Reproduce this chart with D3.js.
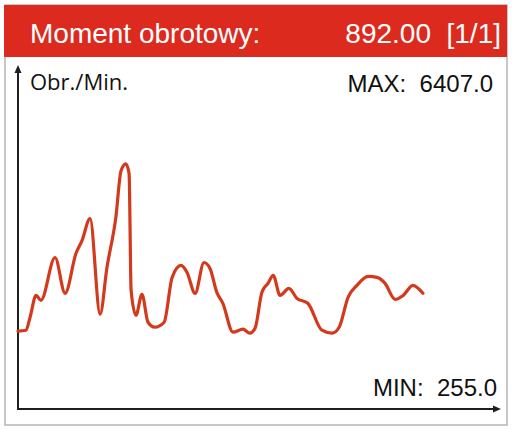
<!DOCTYPE html>
<html>
<head>
<meta charset="utf-8">
<script src="https://cdn.jsdelivr.net/npm/d3@7"></script>
<style>
    body { margin: 0; background: #fff; }
    svg { display: block; }
</style>
</head>
<body>
<div id="chart"></div>
<script>
// Header / labels
const titleLabel = 'Moment obrotowy:';
const titleValue = '892.00  [1/1]';
const unitLabel = 'Obr./Min.';
const maxLabel = 'MAX:  6407.0';
const minLabel = 'MIN:  255.0';

// Trace: time (s) and speed (rpm)
const times = [0, 2.0, 3.0, 4.5, 5.7, 9.2, 11.7, 14.4, 15.9, 17.9, 20.4, 22.1, 24.3, 25.6, 26.8, 27.6,
    28.1, 29.3, 30.8, 32.3, 34.0, 36.3, 38.3, 40.5, 42.0, 44.0, 46.2, 47.7, 49.4, 50.9, 53.4, 55.9,
    57.6, 58.9, 60.6, 62.1, 63.4, 65.1, 67.3, 69.3, 72.0, 75.5, 78.0, 79.8, 82.0, 84.2, 87.0, 89.2,
    91.2, 93.7, 95.7, 98.1, 100.6];
const rpm = [327, 364, 834, 1630, 1449, 3005, 1703, 3150, 3621, 4417, 943, 2644, 4453, 6154, 6407, 6045,
    1811, 906, 1666, 653, 472, 653, 2282, 2716, 2463, 1703, 2824, 2607, 1739, 1341, 291, 400,
    255, 436, 1739, 2065, 2354, 1630, 1884, 1522, 1341, 364, 255, 472, 1558, 1992, 2318, 2282,
    2065, 1485, 1630, 1992, 1703];

const width = 512;
const height = 430;

const svg = d3.select('#chart').append('svg')
    .attr('width', width)
    .attr('height', height);

// Frame
svg.append('rect')
    .attr('x', 5).attr('y', 5)
    .attr('width', 502).attr('height', 420)
    .attr('fill', '#fff')
    .attr('stroke', '#b5b5b5')
    .attr('stroke-width', 1.5);

// Red title bar
svg.append('rect')
    .attr('x', 4).attr('y', 5)
    .attr('width', 503).attr('height', 52)
    .attr('fill', '#dc2a1f');

svg.append('text')
    .attr('x', 30).attr('y', 43)
    .attr('fill', '#fff')
    .style('font', '28px "Liberation Sans", Arial, sans-serif')
    .text(titleLabel);

svg.append('text')
    .attr('x', 501).attr('y', 43)
    .attr('text-anchor', 'end')
    .attr('fill', '#fff')
    .style('white-space', 'pre')
    .style('font', '28px "Liberation Sans", Arial, sans-serif')
    .text(titleValue);

// Scales
const x = d3.scaleLinear().domain([0, 120]).range([18, 501]);
const y = d3.scaleLinear().domain([-2500, 10000]).range([409, 65]);

// Axes with arrow heads
const axisColor = '#1e1e1e';
const x0 = x.range()[0], x1 = x.range()[1];
const y0 = y.range()[0], y1 = y.range()[1];

svg.append('line')
    .attr('x1', x0).attr('y1', y0)
    .attr('x2', x0).attr('y2', y1 + 5)
    .attr('stroke', axisColor).attr('stroke-width', 2);
svg.append('line')
    .attr('x1', x0 - 1).attr('y1', y0)
    .attr('x2', x1 - 5).attr('y2', y0)
    .attr('stroke', axisColor).attr('stroke-width', 2);

svg.append('path')
    .attr('d', `M${x0},${y1} L${x0 - 3.5},${y1 + 8} L${x0 + 3.5},${y1 + 8} Z`)
    .attr('fill', axisColor);
svg.append('path')
    .attr('d', `M${x1},${y0} L${x1 - 8},${y0 - 3.5} L${x1 - 8},${y0 + 3.5} Z`)
    .attr('fill', axisColor);

// Labels
svg.append('text')
    .attr('x', 30).attr('y', 90)
    .attr('fill', '#111')
    .style('font', '22px "Open Sans", sans-serif')
    .text(unitLabel);

svg.append('text')
    .attr('x', 493).attr('y', 92)
    .attr('text-anchor', 'end')
    .attr('fill', '#111')
    .style('white-space', 'pre')
    .style('font', '24px "Liberation Sans", Arial, sans-serif')
    .text(maxLabel);

svg.append('text')
    .attr('x', 497).attr('y', 396)
    .attr('text-anchor', 'end')
    .attr('fill', '#111')
    .style('white-space', 'pre')
    .style('font', '24px "Liberation Sans", Arial, sans-serif')
    .text(minLabel);

// Trace
const points = times.map((t, i) => ({ t: t, v: rpm[i] }));

const line = d3.line()
    .x(d => x(d.t))
    .y(d => y(d.v))
    .curve(d3.curveMonotoneX);

svg.append('path')
    .datum(points)
    .attr('d', line)
    .attr('fill', 'none')
    .attr('stroke', '#d2391d')
    .attr('stroke-width', 3.2)
    .attr('stroke-linejoin', 'round')
    .attr('stroke-linecap', 'round');
</script>
</body>
</html>
